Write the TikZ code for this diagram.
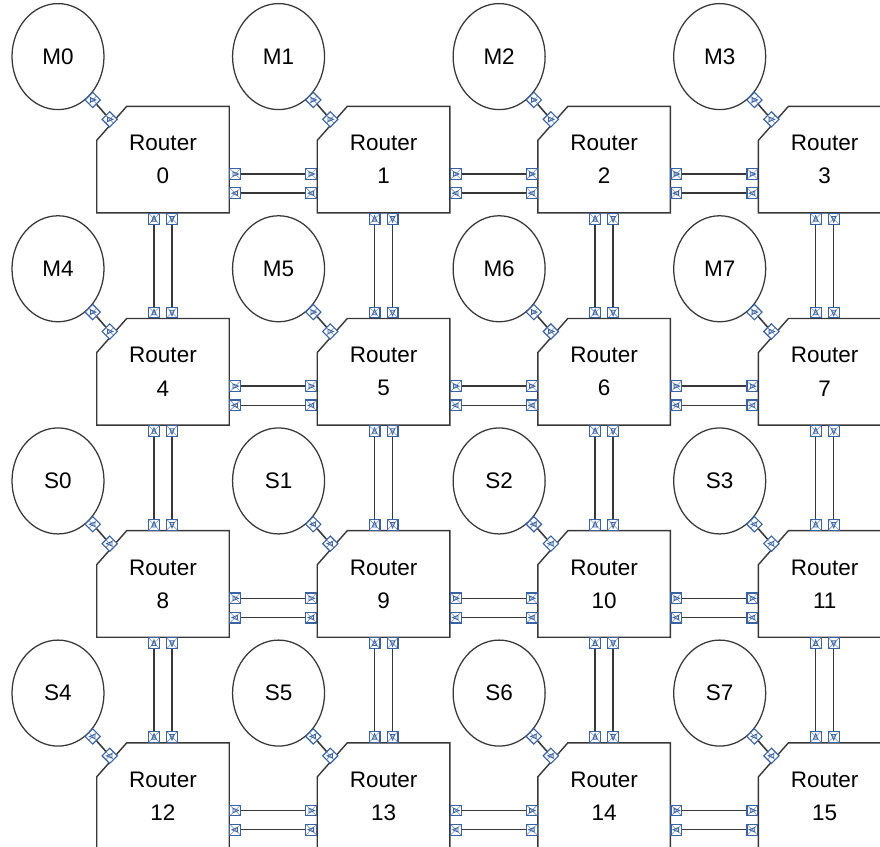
\documentclass[tikz,border=0pt]{standalone}
\usepackage{fontspec}
\setmainfont{Liberation Sans}
\usetikzlibrary{positioning, calc, shapes.geometric}
\definecolor{portblue}{HTML}{3A62A0}
\definecolor{edgegray}{HTML}{383838}

\begin{document}
\begin{tikzpicture}[
    node distance=2.64cm and 2.2cm,
    every node/.style={font=\fontsize{16}{23.5}\selectfont},
    router/.style={minimum width=3.3cm, minimum height=2.65cm, align=center, inner sep=0pt},
    outline/.style={draw=edgegray, line width=1pt},
    mem/.style={draw=edgegray, ellipse, minimum width=2.3cm, minimum height=2.65cm, line width=0.9pt, inner sep=0pt},
    port/.style={draw=portblue, fill=white, minimum size=0.27cm, inner sep=0pt, line width=0.8pt,
        path picture={
            \draw[portblue!70, line width=0.4pt] (path picture bounding box.north west) -- (path picture bounding box.south east)
                (path picture bounding box.south west) -- (path picture bounding box.north east);
            \draw[portblue, line width=0.6pt] ($(path picture bounding box.center)+(#1:0.08)$)
                -- ($(path picture bounding box.center)+(#1+135:0.08)$)
                -- ($(path picture bounding box.center)+(#1-135:0.08)$) -- cycle;}},
    link/.style={draw=edgegray, line width=1.1pt}
]
    \useasboundingbox (0,0) rectangle (22,-21.15);
    \clip (0,0) rectangle (22,-21.15);

    % Routers
    \node[router] (r0) at (4.075,-3.99) {Router\\0};
    \node[router, right=of r0] (r1) {Router\\1};
    \node[router, right=of r1] (r2) {Router\\2};
    \node[router, right=of r2] (r3) {Router\\3};
    \node[router, below=of r0] (r4) {Router\\4};
    \node[router, right=of r4] (r5) {Router\\5};
    \node[router, right=of r5] (r6) {Router\\6};
    \node[router, right=of r6] (r7) {Router\\7};
    \node[router, below=of r4] (r8) {Router\\8};
    \node[router, right=of r8] (r9) {Router\\9};
    \node[router, right=of r9] (r10) {Router\\10};
    \node[router, right=of r10] (r11) {Router\\11};
    \node[router, below=of r8] (r12) {Router\\12};
    \node[router, right=of r12] (r13) {Router\\13};
    \node[router, right=of r13] (r14) {Router\\14};
    \node[router, right=of r14] (r15) {Router\\15};

    % Masters and slaves
    \node[mem] (m0) at ([shift={(-2.625,2.575)}]r0.center) {M0};
    \node[mem] (m1) at ([shift={(-2.625,2.575)}]r1.center) {M1};
    \node[mem] (m2) at ([shift={(-2.625,2.575)}]r2.center) {M2};
    \node[mem] (m3) at ([shift={(-2.625,2.575)}]r3.center) {M3};
    \node[mem] (m4) at ([shift={(-2.625,2.575)}]r4.center) {M4};
    \node[mem] (m5) at ([shift={(-2.625,2.575)}]r5.center) {M5};
    \node[mem] (m6) at ([shift={(-2.625,2.575)}]r6.center) {M6};
    \node[mem] (m7) at ([shift={(-2.625,2.575)}]r7.center) {M7};
    \node[mem] (s0) at ([shift={(-2.625,2.575)}]r8.center) {S0};
    \node[mem] (s1) at ([shift={(-2.625,2.575)}]r9.center) {S1};
    \node[mem] (s2) at ([shift={(-2.625,2.575)}]r10.center) {S2};
    \node[mem] (s3) at ([shift={(-2.625,2.575)}]r11.center) {S3};
    \node[mem] (s4) at ([shift={(-2.625,2.575)}]r12.center) {S4};
    \node[mem] (s5) at ([shift={(-2.625,2.575)}]r13.center) {S5};
    \node[mem] (s6) at ([shift={(-2.625,2.575)}]r14.center) {S6};
    \node[mem] (s7) at ([shift={(-2.625,2.575)}]r15.center) {S7};

    % Router outlines with cut corner
    \foreach \i in {0,...,15}
        \draw[outline] ([xshift=0.75cm]r\i.north west) -- (r\i.north east) -- (r\i.south east)
            -- (r\i.south west) -- ([yshift=-0.85cm]r\i.north west) -- cycle;

    % Local links
    \foreach \i/\d in {0/-45,1/-45,2/-45,3/-45,4/-45,5/-45,6/-45,7/-45,8/135,9/135,10/135,11/135,12/135,13/135,14/135,15/135} {
        \node[port=\d, rotate=45] (pm\i) at ([shift={(-0.1,0.16)}]r\i.north west) {};
        \node[port=\d, rotate=45] (pr\i) at ([shift={(0.325,-0.325)}]r\i.north west) {};
        \draw[link] (pm\i) -- (pr\i);
    }

    % Horizontal links
    \foreach \a/\b in {0/1,1/2,2/3,4/5,5/6,6/7,8/9,9/10,10/11,12/13,13/14,14/15} {
        \node[port=0, anchor=west] (ha\a) at ([yshift=-0.36cm]r\a.east) {};
        \node[port=0, anchor=east] (hb\a) at ([yshift=-0.36cm]r\b.west) {};
        \node[port=180, anchor=west] (hc\a) at ([yshift=-0.84cm]r\a.east) {};
        \node[port=180, anchor=east] (hd\a) at ([yshift=-0.84cm]r\b.west) {};
        \draw[link] (ha\a) -- (hb\a);
        \draw[link] (hc\a) -- (hd\a);
    }

    % Vertical links
    \foreach \a/\b in {0/4,4/8,8/12,1/5,5/9,9/13,2/6,6/10,10/14,3/7,7/11,11/15} {
        \node[port=90, anchor=north] (va\a) at ([xshift=-0.225cm]r\a.south) {};
        \node[port=90, anchor=south] (vb\a) at ([xshift=-0.225cm]r\b.north) {};
        \node[port=-90, anchor=north] (vc\a) at ([xshift=0.225cm]r\a.south) {};
        \node[port=-90, anchor=south] (vd\a) at ([xshift=0.225cm]r\b.north) {};
        \draw[link] (va\a) -- (vb\a);
        \draw[link] (vc\a) -- (vd\a);
    }
\end{tikzpicture}
\end{document}
